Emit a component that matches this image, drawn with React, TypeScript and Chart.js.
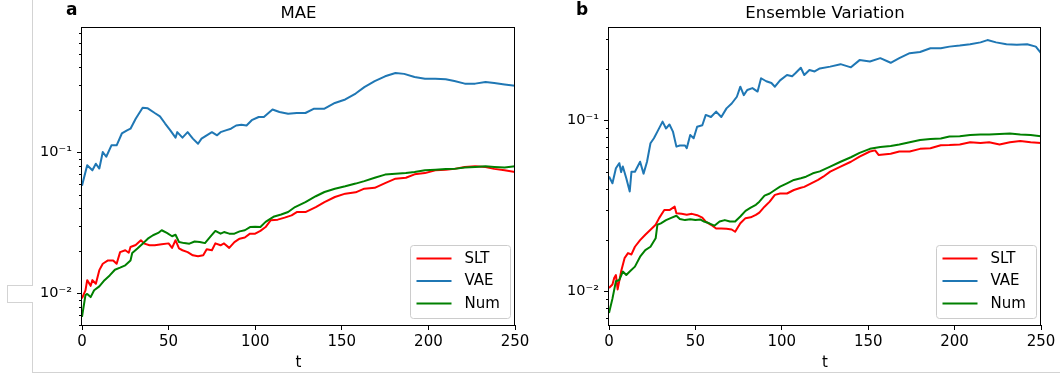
import React, { useEffect, useRef } from "react";
import { Chart, registerables } from "chart.js";

Chart.register(...registerables);

const FONT = "'DejaVu Sans', sans-serif";

// ---------- Panel a: MAE ----------
const maeSltT = [0,2,3,5,6,8,10,12,15,18,20,22,25,27,28,31,34,36,39,42,46,50,52,54,56,58,61,64,67,70,72,75,77,80,82,85,88,91,94,97,100,103,106,109,113,117,121,124,129,135,140,146,152,158,163,169,175,181,187,192,198,204,210,215,221,227,233,238,244,250];
const maeSlt = [0.0092,0.0105,0.0124,0.0113,0.0124,0.0117,0.0146,0.0162,0.0171,0.0171,0.0162,0.0196,0.0202,0.0194,0.0213,0.022,0.0238,0.0225,0.0219,0.0219,0.0223,0.0226,0.021,0.0238,0.0208,0.0202,0.0196,0.0186,0.0183,0.0186,0.0205,0.0202,0.0226,0.0219,0.0226,0.021,0.0231,0.0244,0.0249,0.0265,0.0265,0.0277,0.0295,0.033,0.0333,0.0344,0.0357,0.0377,0.0377,0.0409,0.0444,0.0482,0.0509,0.052,0.0552,0.056,0.0605,0.065,0.066,0.0698,0.0712,0.0745,0.0752,0.0763,0.0787,0.0795,0.0787,0.0763,0.0745,0.0725];

const maeVaeT = [0,3,6,8,10,12,14,17,20,23,26,28,31,35,38,42,45,48,51,54,55,58,61,64,67,69,72,75,78,80,83,86,89,92,95,98,102,105,110,114,119,124,129,134,140,146,152,158,163,169,175,181,186,192,198,204,210,215,221,227,233,238,244,250];
const maeVae = [0.058,0.081,0.0745,0.083,0.0767,0.1005,0.093,0.112,0.112,0.136,0.143,0.147,0.173,0.207,0.205,0.19,0.18,0.16,0.143,0.127,0.139,0.127,0.139,0.125,0.115,0.125,0.132,0.139,0.132,0.139,0.143,0.147,0.155,0.157,0.155,0.169,0.178,0.178,0.201,0.193,0.188,0.19,0.19,0.204,0.204,0.224,0.237,0.261,0.29,0.32,0.346,0.365,0.36,0.342,0.333,0.333,0.33,0.32,0.307,0.307,0.315,0.31,0.303,0.297];

const maeNumT = [0,2,3,5,7,10,13,16,19,22,25,28,29,32,35,38,41,44,46,49,52,54,56,59,62,65,68,71,74,77,80,82,85,88,91,94,97,100,103,106,108,111,115,119,123,129,135,140,146,152,158,163,169,175,181,187,192,198,204,210,215,221,227,233,238,244,250];
const maeNum = [0.0068,0.0097,0.0099,0.0094,0.0105,0.0112,0.0124,0.0134,0.0147,0.0152,0.0158,0.0171,0.0193,0.0208,0.0225,0.0244,0.0258,0.0268,0.028,0.0268,0.0254,0.026,0.0231,0.0227,0.0225,0.0233,0.0231,0.0227,0.0251,0.0277,0.0265,0.0272,0.0265,0.0265,0.0275,0.028,0.0295,0.0297,0.0295,0.0321,0.0333,0.0351,0.0362,0.0377,0.0409,0.0444,0.0488,0.0523,0.0552,0.0574,0.06,0.0625,0.066,0.0695,0.0705,0.0712,0.0725,0.0745,0.0752,0.076,0.0763,0.078,0.0787,0.0795,0.0787,0.078,0.0795];

// ---------- Panel b: Ensemble Variation ----------
const evSltT = [0,2,3,4,5,7,9,11,13,15,18,21,24,27,29,32,35,38,39,42,45,48,51,54,56,59,62,65,68,71,73,76,79,82,85,87,90,93,96,99,103,107,111,113,117,121,124,128,134,140,145,151,154,156,163,168,174,180,186,192,197,203,209,215,220,226,232,238,244,250];
const evSlt = [0.0105,0.011,0.012,0.0125,0.0103,0.0131,0.0157,0.0168,0.0165,0.0183,0.02,0.0215,0.023,0.0246,0.0269,0.03,0.03,0.0314,0.0287,0.0285,0.0282,0.0285,0.028,0.0271,0.0257,0.0246,0.0234,0.0234,0.0233,0.0231,0.0224,0.0251,0.0269,0.0272,0.0281,0.029,0.0314,0.0336,0.0368,0.0375,0.0375,0.0393,0.0405,0.041,0.043,0.045,0.047,0.0503,0.0538,0.0575,0.0616,0.066,0.067,0.063,0.064,0.066,0.066,0.0684,0.069,0.0718,0.072,0.0725,0.0747,0.074,0.0747,0.0725,0.0747,0.076,0.0747,0.074];

const evVaeT = [0,2,4,6,7,8,10,12,13,15,18,20,22,24,26,28,31,33,35,37,39,41,44,45,47,49,51,54,56,59,62,65,68,71,74,76,78,80,83,86,88,91,94,96,99,103,106,108,111,113,116,119,122,128,134,140,145,151,157,163,168,174,180,186,192,197,203,209,215,219,224,230,236,242,247,250];
const evVae = [0.0471,0.043,0.0527,0.0564,0.05,0.054,0.046,0.0385,0.0503,0.0503,0.0575,0.049,0.0575,0.0738,0.0789,0.0863,0.0987,0.09,0.095,0.0863,0.0705,0.0715,0.0715,0.069,0.0825,0.0789,0.0922,0.094,0.108,0.105,0.113,0.105,0.118,0.126,0.138,0.158,0.141,0.151,0.155,0.148,0.177,0.17,0.166,0.158,0.172,0.185,0.182,0.19,0.204,0.185,0.198,0.194,0.202,0.207,0.214,0.205,0.226,0.222,0.232,0.218,0.232,0.248,0.252,0.265,0.265,0.271,0.275,0.28,0.287,0.296,0.287,0.28,0.278,0.28,0.271,0.248];

const evNumT = [0,2,4,6,8,10,12,15,18,21,24,27,28,30,33,36,39,41,44,47,50,53,55,58,61,64,67,70,73,76,79,82,85,87,90,93,96,99,103,107,111,114,118,122,128,134,140,145,151,157,163,168,174,180,186,192,197,203,209,215,220,226,232,238,244,250];
const evNum = [0.0075,0.0091,0.0115,0.0117,0.0131,0.0125,0.0131,0.014,0.016,0.0175,0.0183,0.0205,0.0246,0.0251,0.0262,0.027,0.0278,0.0266,0.0262,0.0265,0.0262,0.0264,0.0257,0.0251,0.0243,0.0257,0.0262,0.0257,0.0257,0.0275,0.0297,0.031,0.0322,0.0336,0.0364,0.0375,0.0393,0.0411,0.043,0.045,0.046,0.047,0.0492,0.0505,0.0538,0.0575,0.0611,0.0648,0.0684,0.0702,0.071,0.0725,0.0747,0.0771,0.078,0.0786,0.0807,0.081,0.0825,0.083,0.083,0.0836,0.084,0.083,0.0825,0.081];

// ---------- labels / ticks ----------
const seriesLabels = ["SLT", "VAE", "Num"];
const seriesColors = ["#ff0000", "#1f77b4", "#008000"];
const seriesOrder = [2, 1, 0];
const xTickValues = [0, 50, 100, 150, 200, 250];
const yMajorTicks = [0.01, 0.1];
const yMajorLabels = ["10\u207B\u00B2", "10\u207B\u00B9"];
const yMinorTicks = [0.006,0.007,0.008,0.009,0.02,0.03,0.04,0.05,0.06,0.07,0.08,0.09,0.2,0.3,0.4,0.5,0.6,0.7,0.8,0.9];

const toPoints = (ts: number[], vs: number[]) => ts.map((t, i) => ({ x: t, y: vs[i] }));

const decorPlugin = {
  id: "decor",
  afterDraw(chart: any) {
    const { ctx, chartArea } = chart;
    const ys = chart.scales.y;
    ctx.save();
    // minor ticks
    ctx.strokeStyle = "#000";
    ctx.lineWidth = 1;
    for (const v of yMinorTicks) {
      if (v < ys.min || v > ys.max) continue;
      const py = Math.round(ys.getPixelForValue(v)) + 0.5;
      ctx.beginPath();
      ctx.moveTo(chartArea.left - 3, py);
      ctx.lineTo(chartArea.left, py);
      ctx.stroke();
    }
    // frame
    ctx.strokeStyle = "#000";
    ctx.lineWidth = 1;
    ctx.strokeRect(
      Math.round(chartArea.left) - 0.5,
      Math.round(chartArea.top) + 0.5,
      Math.round(chartArea.right - chartArea.left),
      Math.round(chartArea.bottom - chartArea.top)
    );
    // legend
    const w = 100, h = 73;
    const x0 = Math.round(chartArea.right - 5 - w) + 0.5;
    const y0 = Math.round(chartArea.bottom - 7 - h) + 0.5;
    const r = 3;
    ctx.beginPath();
    ctx.moveTo(x0 + r, y0);
    ctx.lineTo(x0 + w - r, y0);
    ctx.arcTo(x0 + w, y0, x0 + w, y0 + r, r);
    ctx.lineTo(x0 + w, y0 + h - r);
    ctx.arcTo(x0 + w, y0 + h, x0 + w - r, y0 + h, r);
    ctx.lineTo(x0 + r, y0 + h);
    ctx.arcTo(x0, y0 + h, x0, y0 + h - r, r);
    ctx.lineTo(x0, y0 + r);
    ctx.arcTo(x0, y0, x0 + r, y0, r);
    ctx.closePath();
    ctx.fillStyle = "rgba(255,255,255,0.8)";
    ctx.fill();
    ctx.strokeStyle = "#cccccc";
    ctx.stroke();
    const ds = chart.data.datasets;
    ctx.font = `15px ${FONT}`;
    ctx.textBaseline = "middle";
    ctx.textAlign = "left";
    ds.forEach((d: any, i: number) => {
      const y = y0 + 13 + i * 22.5;
      ctx.strokeStyle = d.borderColor;
      ctx.lineWidth = 2;
      ctx.beginPath();
      ctx.moveTo(x0 + 6, y);
      ctx.lineTo(x0 + 41, y);
      ctx.stroke();
      ctx.fillStyle = "#000";
      ctx.fillText(d.label, x0 + 54, y + 0.5);
    });
    ctx.restore();
  },
};

type PanelProps = {
  left: number;
  width: number;
  padLeft: number;
  padRight: number;
  yMin: number;
  yMax: number;
  series: { t: number[]; v: number[] }[];
};

function Panel({ left, width, padLeft, padRight, yMin, yMax, series }: PanelProps) {
  const ref = useRef<HTMLCanvasElement | null>(null);
  useEffect(() => {
    if (!ref.current) return;
    const chart = new Chart(ref.current, {
      type: "line",
      data: {
        datasets: series.map((s, i) => ({
          label: seriesLabels[i],
          data: toPoints(s.t, s.v),
          borderColor: seriesColors[i],
          backgroundColor: seriesColors[i],
          borderWidth: 2,
          pointRadius: 0,
          fill: false,
          tension: 0,
          borderJoinStyle: "round",
          order: seriesOrder[i],
        })),
      },
      options: {
        animation: false,
        responsive: false,
        maintainAspectRatio: false,
        events: [],
        layout: { padding: { left: padLeft, right: padRight, top: 27, bottom: 0 } },
        plugins: {
          legend: { display: false },
          tooltip: { enabled: false },
          title: { display: false },
        },
        scales: {
          x: {
            type: "linear",
            min: 0,
            max: 250,
            afterBuildTicks: (scale: any) => {
              scale.ticks = xTickValues.map((v) => ({ value: v }));
            },
            ticks: {
              autoSkip: false,
              maxRotation: 0,
              padding: 3,
              color: "#000",
              font: { family: FONT, size: 15 },
            },
            grid: { display: true, drawOnChartArea: false, drawTicks: true, tickLength: 5, tickColor: "#000" },
            border: { display: false },
            title: { display: true, text: "t", color: "#000", font: { family: FONT, size: 15 }, padding: 0 },
            afterFit: (scale: any) => {
              scale.height = 47;
            },
          },
          y: {
            type: "logarithmic",
            min: yMin,
            max: yMax,
            bounds: "data",
            afterBuildTicks: (scale: any) => {
              scale.ticks = yMajorTicks.map((v) => ({ value: v, major: true }));
            },
            ticks: {
              autoSkip: false,
              padding: 5,
              color: "#000",
              font: { family: FONT, size: 14.5 },
              callback: (_v: any, index: number) => yMajorLabels[index],
            },
            grid: { display: true, drawOnChartArea: false, drawTicks: true, tickLength: 5, tickColor: "#000" },
            border: { display: false },
            afterFit: (scale: any) => {
              scale.width = 48;
            },
          },
        },
      },
      plugins: [decorPlugin],
    } as any);
    return () => chart.destroy();
  }, []);
  return (
    <canvas
      ref={ref}
      width={width}
      height={372}
      style={{ position: "absolute", left, top: 0, width, height: 372, display: "block" }}
    />
  );
}

const gray = "#d3d3d3";

export default function App() {
  return (
    <div style={{ position: "absolute", left: 0, top: 0, width: 1060, height: 377, background: "#fff", overflow: "hidden" }}>
      {/* page frame fragments */}
      <div style={{ position: "absolute", left: 32, top: 0, width: 0, height: 285, borderLeft: `1px solid ${gray}` }} />
      <div style={{ position: "absolute", left: 7, top: 285, width: 25, height: 16, borderLeft: `1px solid ${gray}`, borderTop: `1px solid ${gray}`, borderBottom: `1px solid ${gray}` }} />
      <div style={{ position: "absolute", left: 32, top: 302, width: 1040, height: 70, borderLeft: `1px solid ${gray}`, borderBottom: `1px solid ${gray}` }} />

      <Panel
        left={34}
        width={506}
        padLeft={0}
        padRight={25}
        yMin={0.00596}
        yMax={0.774}
        series={[
          { t: maeSltT, v: maeSlt },
          { t: maeVaeT, v: maeVae },
          { t: maeNumT, v: maeNum },
        ]}
      />
      <Panel
        left={540}
        width={520}
        padLeft={21}
        padRight={19}
        yMin={0.00638}
        yMax={0.353}
        series={[
          { t: evSltT, v: evSlt },
          { t: evVaeT, v: evVae },
          { t: evNumT, v: evNum },
        ]}
      />

      <div style={{ position: "absolute", left: 66, top: 1, font: `bold 17px ${FONT}`, lineHeight: "17px", color: "#000" }}>a</div>
      <div style={{ position: "absolute", left: 576, top: 1, font: `bold 17px ${FONT}`, lineHeight: "17px", color: "#000" }}>b</div>
      <div style={{ position: "absolute", left: 298.5, top: 4.5, transform: "translateX(-50%)", whiteSpace: "nowrap", font: `16.5px ${FONT}`, lineHeight: "16.5px", color: "#000" }}>MAE</div>
      <div style={{ position: "absolute", left: 825, top: 4.5, transform: "translateX(-50%)", whiteSpace: "nowrap", font: `16.5px ${FONT}`, lineHeight: "16.5px", color: "#000" }}>Ensemble Variation</div>
    </div>
  );
}
